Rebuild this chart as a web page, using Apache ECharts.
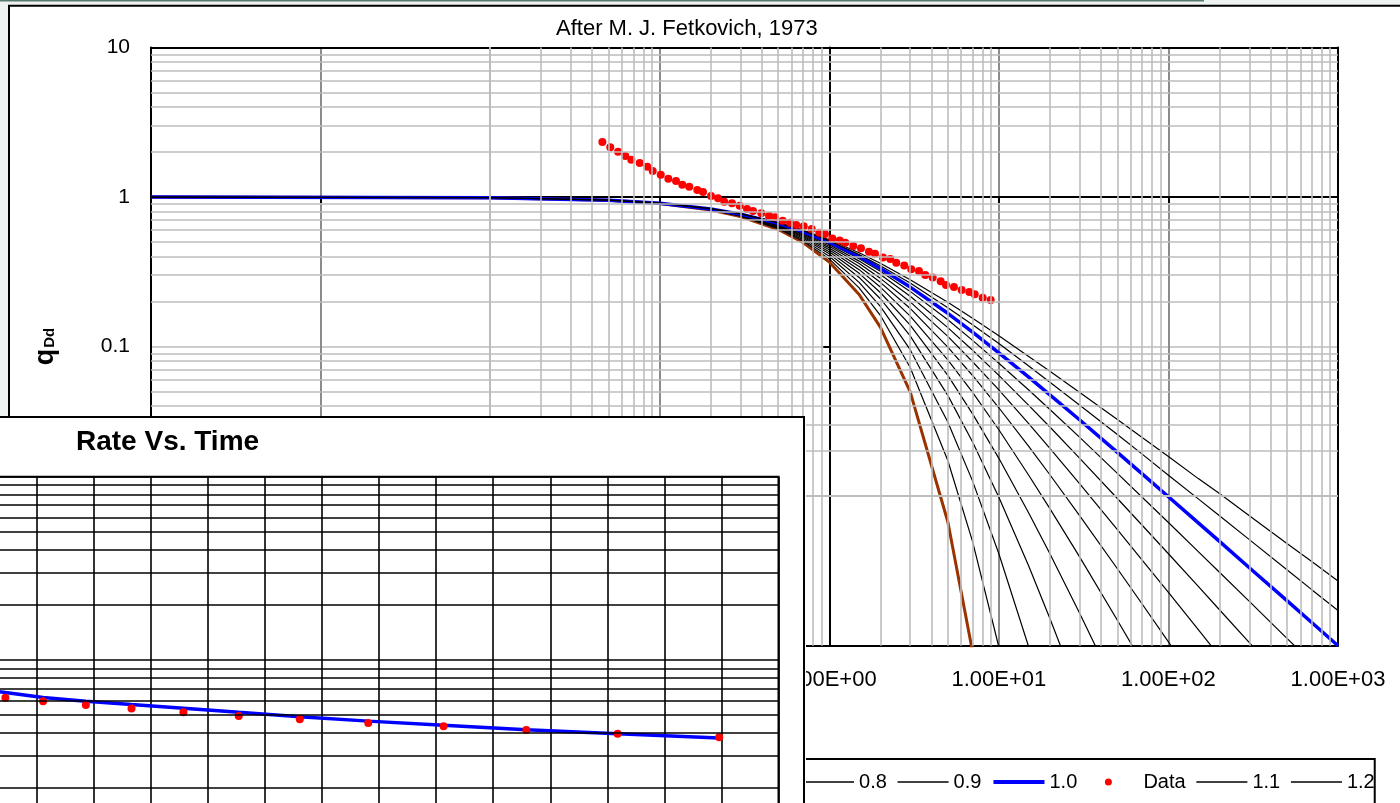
<!DOCTYPE html>
<html><head><meta charset="utf-8">
<script src="https://cdn.jsdelivr.net/npm/echarts@6.0.0/dist/echarts.min.js"></script>
<style>
html,body{margin:0;padding:0;width:1400px;height:803px;overflow:hidden;background:#eef2f0;}
#main{position:absolute;left:0;top:0;width:1400px;height:803px;}
#inset{position:absolute;left:-400px;top:416px;width:1206px;height:470px;}
</style></head><body>
<div id="main"></div><div id="inset"></div>
<script>
// ---------- DATA ----------
// Dimensionless time of the Arps / Fetkovich type curves
const tDd = [0.0001, 0.01, 0.05, 0.1, 0.2, 0.3, 0.5, 0.7, 1, 1.5, 2, 3, 5, 7, 10, 15, 20, 30, 50, 70, 100, 150, 200, 300, 500, 700, 1000];
// qDd for each decline exponent b
const q_b00 = [1, 0.990, 0.951, 0.905, 0.819, 0.741, 0.607, 0.497, 0.368, 0.223, 0.135, 0.0498, 0.00674, 0.00091];
const q_b01 = [1, 0.990, 0.951, 0.905, 0.820, 0.744, 0.614, 0.508, 0.386, 0.247, 0.162, 0.0725, 0.0173, 0.00496, 0.00098];
const q_b02 = [1, 0.990, 0.952, 0.906, 0.822, 0.747, 0.621, 0.519, 0.402, 0.269, 0.186, 0.0954, 0.0313, 0.0126, 0.00412, 0.00098];
const q_b03 = [1, 0.990, 0.952, 0.906, 0.824, 0.750, 0.628, 0.530, 0.417, 0.290, 0.209, 0.118, 0.0472, 0.0230, 0.00984, 0.00341, 0.00152, 0.000464];
const q_b04 = [1, 0.990, 0.952, 0.907, 0.825, 0.753, 0.634, 0.540, 0.431, 0.309, 0.230, 0.139, 0.0642, 0.0355, 0.0179, 0.00771, 0.00412, 0.00164, 0.000495];
const q_b05 = [1, 0.990, 0.952, 0.907, 0.826, 0.756, 0.640, 0.549, 0.444, 0.327, 0.250, 0.160, 0.0816, 0.0494, 0.0278, 0.0138, 0.00826, 0.00391, 0.00148, 0.000772];
const q_b06 = [1, 0.990, 0.952, 0.907, 0.828, 0.759, 0.646, 0.557, 0.457, 0.343, 0.269, 0.180, 0.0992, 0.0641, 0.0390, 0.0215, 0.0139, 0.00739, 0.00327, 0.00190, 0.00106, 0.000543];
const q_b07 = [1, 0.990, 0.952, 0.908, 0.829, 0.762, 0.651, 0.566, 0.469, 0.359, 0.286, 0.199, 0.117, 0.0792, 0.0513, 0.0305, 0.0209, 0.0121, 0.00598, 0.00374, 0.00227, 0.00128, 0.000851];
const q_b08 = [1, 0.990, 0.952, 0.908, 0.831, 0.764, 0.657, 0.574, 0.480, 0.373, 0.303, 0.217, 0.134, 0.0945, 0.0642, 0.0405, 0.0290, 0.0179, 0.00964, 0.00639, 0.00412, 0.00249, 0.00174, 0.00105, 0.000557];
const q_b09 = [1, 0.990, 0.952, 0.909, 0.832, 0.767, 0.662, 0.581, 0.490, 0.387, 0.319, 0.234, 0.151, 0.110, 0.0774, 0.0513, 0.0380, 0.0247, 0.0142, 0.00984, 0.00666, 0.00426, 0.00310, 0.00198, 0.00112, 0.000774];
const q_b10 = [1, 0.990, 0.952, 0.909, 0.833, 0.769, 0.667, 0.588, 0.500, 0.400, 0.333, 0.250, 0.167, 0.125, 0.0909, 0.0625, 0.0476, 0.0323, 0.0196, 0.0141, 0.00990, 0.00662, 0.00498, 0.00332, 0.00200, 0.00143, 0.000999];
const q_b11 = [1, 0.990, 0.953, 0.910, 0.835, 0.772, 0.671, 0.595, 0.509, 0.412, 0.347, 0.266, 0.182, 0.140, 0.105, 0.0741, 0.0578, 0.0405, 0.0258, 0.0191, 0.0138, 0.00959, 0.00739, 0.00512, 0.00322, 0.00237, 0.00172];
const q_b12 = [1, 0.990, 0.953, 0.910, 0.836, 0.774, 0.676, 0.602, 0.518, 0.424, 0.361, 0.280, 0.198, 0.155, 0.118, 0.0860, 0.0684, 0.0493, 0.0325, 0.0247, 0.0184, 0.0131, 0.0104, 0.00739, 0.00483, 0.00366, 0.00271];
const curveNames = ['0.0','0.1','0.2','0.3','0.4','0.5','0.6','0.7','0.8','0.9','1.0','1.1','1.2'];
const curveValues = [q_b00,q_b01,q_b02,q_b03,q_b04,q_b05,q_b06,q_b07,q_b08,q_b09,q_b10,q_b11,q_b12];

// Matched well data on the type curve
const dataTDd = [0.0459, 0.0511, 0.0568, 0.0627, 0.0680, 0.0762, 0.0845, 0.0909, 0.1014, 0.1124,
  0.1248, 0.1359, 0.1494, 0.1666, 0.1800, 0.2007, 0.2207, 0.2403, 0.2669, 0.2963,
  0.3271, 0.3549, 0.3972, 0.4411, 0.4784, 0.5312, 0.5866, 0.6390, 0.7065, 0.7875,
  0.8730, 0.9432, 1.042, 1.152, 1.243, 1.385, 1.538, 1.714, 1.860, 2.073,
  2.289, 2.483, 2.768, 3.044, 3.380, 3.681, 4.071, 4.538, 4.877, 5.435,
  6.035, 6.693, 7.200, 8.026, 8.947];
const dataQDd = [2.332, 2.149, 2.009, 1.880, 1.776, 1.688, 1.594, 1.492, 1.410, 1.326,
  1.279, 1.208, 1.172, 1.114, 1.080, 1.016, 0.980, 0.930, 0.908, 0.875,
  0.831, 0.806, 0.778, 0.750, 0.732, 0.694, 0.673, 0.650, 0.637, 0.612,
  0.577, 0.566, 0.529, 0.513, 0.495, 0.470, 0.454, 0.431, 0.418, 0.395,
  0.385, 0.364, 0.349, 0.329, 0.320, 0.301, 0.290, 0.274, 0.258, 0.250,
  0.239, 0.232, 0.224, 0.212, 0.205];

// Inset: rate vs time (visible part)
const rateTime = [585, 645, 711, 786, 866, 957, 1054, 1161, 1281, 1413, 1558, 1718, 1896];
const rateData = [650, 623, 595, 568, 543, 518, 495, 475, 453, 435, 415, 396, 379];
const rateFit  = [702, 664, 625, 595, 571, 546, 518, 490, 464, 440, 417, 396, 375];

// Tick labels
const xTickLabels = ['1.00E-04','1.00E-03','1.00E-02','1.00E-01','1.00E+00','1.00E+01','1.00E+02','1.00E+03'];
const yTickLabels = ['0.001','0.01','0.1','1','10'];
const legendOrder = ['0.0','0.1','0.2','0.3','0.4','0.5','0.6','0.7','0.8','0.9','1.0','Data','1.1','1.2'];

// ---------- CHART ----------
const FONT = "'Liberation Sans', Arial, Helvetica, sans-serif";
const G = {left:151, top:47.5, width:1187, height:598.2};

function minorMarks(lo, hi, key) {
  const out = [];
  for (let d = lo; d < hi; d++) for (let m = 2; m <= 9; m++) {
    const o = {}; o[key] = +(m * Math.pow(10, d)).toPrecision(6); out.push(o);
  }
  return out;
}

const specialStyle = {'0.0': {color:'#993300', width:3}, '1.0': {color:'#0000ff', width:3.5}};
function styleOf(name) { return specialStyle[name] || {color:'#000000', width:1.2}; }
function curveSeries(k) {
  const name = curveNames[k];
  const st = styleOf(name);
  return {
    name, type:'line', z:3, symbol:'none', showSymbol:false, clip:true,
    data: curveValues[k].map((q, i) => [tDd[i], q]),
    lineStyle:{color:st.color, width:st.width}, itemStyle:{color:st.color},
    emphasis:{disabled:true}, silent:true
  };
}

const series = [{
  type:'line', data:[[1,1]], symbol:'none', silent:true, z:1,
  lineStyle:{opacity:0},
  markLine:{
    silent:true, symbol:['none','none'], animation:false, label:{show:false},
    lineStyle:{color:'#bdbdbd', width:1.6, type:'solid'},
    emphasis:{disabled:true},
    data: minorMarks(-4, 3, 'xAxis').concat(minorMarks(-3, 1, 'yAxis'))
  }
}];
for (let k = 0; k <= 10; k++) series.push(curveSeries(k));
series.push({
  name:'Data', type:'scatter', z:4, symbol:'circle', symbolSize:8,
  data: dataTDd.map((t, i) => [t, dataQDd[i]]),
  itemStyle:{color:'#ff0000', opacity:1}, silent:true
});
for (let k = 11; k <= 12; k++) series.push(curveSeries(k));

// legend icon for the data: a dot placed inside a full-width (51 x 7) icon box
const DOT_ICON = 'path://M0,0M51,7M21,0A3.5,3.5,0,1,1,21,7A3.5,3.5,0,1,1,21,0Z';
const legendData = legendOrder.map(name => name === 'Data'
  ? {name, icon:DOT_ICON, itemStyle:{color:'#ff0000', opacity:1}}
  : {name, itemStyle:{opacity:0}, lineStyle:{width: styleOf(name).width === 1.2 ? 1.3 : 4}});

const logX = {type:'log', logBase:10, min:0.0001, max:1000, gridIndex:0};
const logY = {type:'log', logBase:10, min:0.001, max:10, gridIndex:0};
const hidden = {axisLabel:{show:false}, axisTick:{show:false}, splitLine:{show:false}};
const blackLine = {show:true, lineStyle:{color:'#000', width:2}};

const main = echarts.init(document.getElementById('main'));
main.setOption({
  animation:false,
  backgroundColor:'#eef2f0',
  graphic:[
    {type:'rect', silent:true, z:0, shape:{x:9, y:5.7, width:1400, height:805}, style:{fill:'#fff', stroke:'#000', lineWidth:2}},
    {type:'rect', silent:true, z:0, shape:{x:0, y:0, width:1204, height:1.6}, style:{fill:'#587a6f'}}
  ],
  title:{text:'After M. J. Fetkovich, 1973', left:556, top:18, padding:0,
    textStyle:{fontSize:22, fontWeight:'normal', color:'#000', fontFamily:FONT}},
  grid:{left:G.left, top:G.top, width:G.width, height:G.height},
  xAxis:[
    Object.assign({}, logX, {position:'bottom', z:2,
      axisLine:{show:false}, axisTick:{show:false},
      axisLabel:{show:true, margin:23, fontSize:22, color:'#000', fontFamily:FONT,
        formatter:(v) => xTickLabels[Math.round(Math.log10(v)) + 4]},
      splitLine:{show:true, showMinLine:false, showMaxLine:false, lineStyle:{color:'#8c8c8c', width:2}}}),
    Object.assign({}, logX, hidden, {position:'top', z:2.5, axisLine:blackLine}),
    Object.assign({}, logX, {position:'bottom', offset:-G.height * 0.75, z:2.5, axisLine:blackLine,
      axisTick:{show:true, length:6, lineStyle:{color:'#000', width:2}}, axisLabel:{show:false}, splitLine:{show:false}}),
    Object.assign({}, logX, hidden, {position:'bottom', z:2.5, axisLine:blackLine})
  ],
  yAxis:[
    Object.assign({}, logY, {position:'left', z:2,
      axisLine:{show:false}, axisTick:{show:false},
      axisLabel:{show:true, margin:21, fontSize:21, color:'#000', fontFamily:FONT,
        formatter:(v) => yTickLabels[Math.round(Math.log10(v)) + 3]},
      splitLine:{show:true, showMinLine:false, showMaxLine:false, lineStyle:{color:'#bdbdbd', width:1.6}},
      name:'{q|q}{s|Dd}', nameLocation:'middle', nameGap:92, nameRotate:90,
      nameTextStyle:{rich:{
        q:{fontSize:27, fontWeight:'bold', color:'#000', fontFamily:FONT},
        s:{fontSize:15, fontWeight:'bold', color:'#000', fontFamily:FONT, padding:[9,0,0,1]}
      }}}),
    Object.assign({}, logY, hidden, {position:'right', z:2.5, axisLine:blackLine}),
    Object.assign({}, logY, {position:'left', offset:-G.width * 4 / 7, z:2.5, axisLine:blackLine,
      axisTick:{show:true, length:6, lineStyle:{color:'#000', width:2}}, axisLabel:{show:false}, splitLine:{show:false}}),
    Object.assign({}, logY, hidden, {position:'left', z:2.5, axisLine:blackLine})
  ],
  legend:{
    data:legendData, left:36.6, top:759, orient:'horizontal', selectedMode:false,
    itemWidth:51, itemHeight:7, itemGap:10.1, padding:[13,0,20,8],
    borderColor:'#000', borderWidth:2, backgroundColor:'#fff',
    textStyle:{fontSize:20, color:'#000', fontFamily:FONT}
  },
  series
});

// ---------- INSET ----------
const inset = echarts.init(document.getElementById('inset'));
inset.setOption({
  animation:false,
  backgroundColor:'#fff',
  graphic:[{type:'rect', silent:true, z:100, shape:{x:-10, y:1, width:1214, height:600},
    style:{fill:'transparent', stroke:'#000', lineWidth:2}}],
  title:{text:'Rate Vs. Time', left:476, top:12, padding:0,
    textStyle:{fontSize:28, fontWeight:'bold', color:'#000', fontFamily:FONT}},
  grid:{left:37.4, top:60.7, width:1141.1, height:366.6, show:true, borderColor:'#000', borderWidth:2, backgroundColor:'transparent'},
  xAxis:{type:'value', min:0, max:2000, interval:100,
    axisLabel:{show:false}, axisTick:{show:false}, axisLine:{show:false},
    splitLine:{show:true, lineStyle:{color:'#000', width:1.6}}},
  yAxis:{type:'log', logBase:10, min:100, max:10000,
    axisLabel:{show:false}, axisTick:{show:false}, axisLine:{show:false},
    splitLine:{show:true, lineStyle:{color:'#000', width:1.6}}},
  series:[
    {type:'line', data:[[1000,1000]], symbol:'none', silent:true, z:1, lineStyle:{opacity:0},
      markLine:{silent:true, symbol:['none','none'], animation:false, label:{show:false},
        lineStyle:{color:'#000', width:1.6, type:'solid'}, emphasis:{disabled:true},
        data: minorMarks(2, 4, 'yAxis')}},
    {name:'Fit', type:'line', z:3, symbol:'none', silent:true,
      data: rateTime.map((t, i) => [t, rateFit[i]]),
      lineStyle:{color:'#0000ff', width:3.5}},
    {name:'Data', type:'scatter', z:4, symbol:'circle', symbolSize:8, silent:true,
      data: rateTime.map((t, i) => [t, rateData[i]]),
      itemStyle:{color:'#ff0000', opacity:1}}
  ]
});
</script>
</body></html>
